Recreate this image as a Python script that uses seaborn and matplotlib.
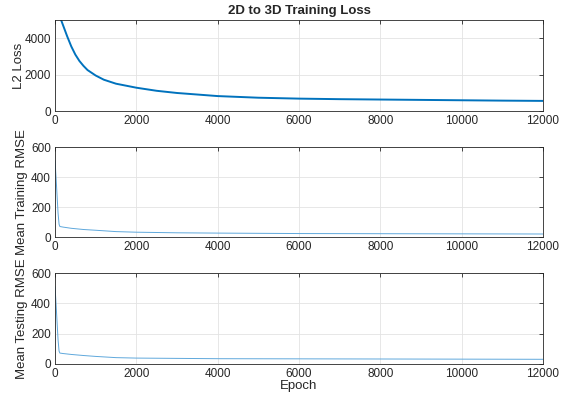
import numpy as np
import pandas as pd
import matplotlib
matplotlib.use("Agg")
import matplotlib.pyplot as plt
import seaborn as sns

# valori
epoch_loss = [0, 50, 100, 150, 200, 300, 400, 500, 600, 700, 800, 1000, 1200, 1500,
              2000, 2500, 3000, 4000, 5000, 6000, 7000, 8000, 9000, 10000, 11000, 12000]
l2_loss = [5900, 5500, 5200, 5000, 4700, 4100, 3550, 3100, 2750, 2480, 2250, 1950, 1720, 1500,
           1280, 1110, 990, 820, 730, 680, 650, 630, 610, 590, 570, 555]

epoch_rmse = [0, 25, 50, 75, 100, 120, 200, 400, 700, 1000, 1500, 2000, 3000, 4000, 6000, 8000, 10000, 12000]
train_rmse = [510, 400, 280, 160, 85, 70, 66, 58, 50, 45, 36, 32, 28, 26, 23, 22, 21, 20]
test_rmse = [510, 400, 280, 160, 85, 72, 69, 63, 56, 50, 42, 39, 37, 35, 34, 33, 32, 31]

sns.set_style("white")
plt.rcParams['font.family'] = ['Liberation Sans', 'DejaVu Sans']
plt.rcParams['xtick.direction'] = 'in'
plt.rcParams['ytick.direction'] = 'in'

blu = '#0072BD'
fig = plt.figure(figsize=(5.63, 3.98), dpi=100)
left, width = 55 / 563, (543 - 55) / 563
posizioni = [(20, 111), (147, 237), (273, 364)]
axes = [fig.add_axes([left, 1 - b / 398, width, (b - t) / 398]) for t, b in posizioni]

df_loss = pd.DataFrame({'epoch': epoch_loss, 'loss': l2_loss})
df_rmse = pd.DataFrame({'epoch': epoch_rmse, 'train': train_rmse, 'test': test_rmse})

sns.lineplot(data=df_loss, x='epoch', y='loss', ax=axes[0], color=blu, linewidth=1.4)
sns.lineplot(data=df_rmse, x='epoch', y='train', ax=axes[1], color='#5fa8dc', linewidth=0.7)
sns.lineplot(data=df_rmse, x='epoch', y='test', ax=axes[2], color='#5fa8dc', linewidth=0.7)

ylabels = ['L2 Loss', 'Mean Training RMSE', 'Mean Testing RMSE']
ylims = [(0, 5000), (0, 600), (0, 600)]
yticks = [[0, 2000, 4000], [0, 200, 400, 600], [0, 200, 400, 600]]
labx = [-0.061, -0.055, -0.055]

for ax, lab, lim, yt, lx in zip(axes, ylabels, ylims, yticks, labx):
    ax.set_xlim(0, 12000)
    ax.set_ylim(*lim)
    ax.set_xticks(range(0, 12001, 2000))
    ax.set_yticks(yt)
    ax.grid(True, color='#e3e3e3', linewidth=0.6)
    ax.set_axisbelow(True)
    ax.tick_params(axis='both', labelsize=8.5, colors='#262626', length=3, width=0.6,
                   top=True, right=True, pad=3)
    for s in ax.spines.values():
        s.set_color('#262626')
        s.set_linewidth(0.6)
    ax.set_ylabel(lab, fontsize=9.5, color='#262626')
    ax.yaxis.set_label_coords(lx, 0.5)
    ax.set_xlabel('')

axes[0].set_title('2D to 3D Training Loss', fontsize=9.5, fontweight='bold', pad=4)
axes[2].set_xlabel('Epoch', fontsize=9.5, color='#262626', labelpad=0)

fig.savefig('out.png', dpi=100)
